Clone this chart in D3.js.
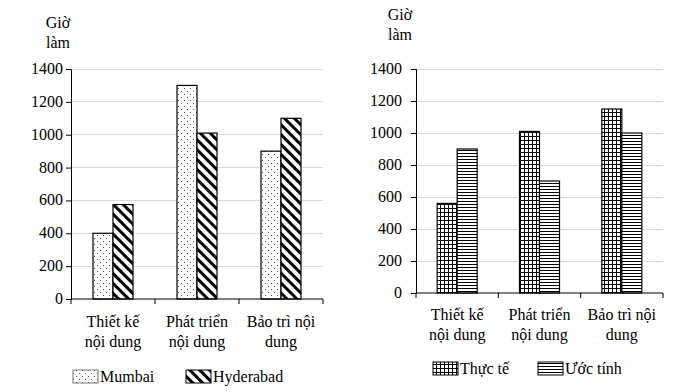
<!DOCTYPE html>
<html><head><meta charset="utf-8">
<script src="https://cdn.jsdelivr.net/npm/d3@7"></script>
</head><body style="margin:0;background:#fff">
<svg id="c" width="691" height="392"></svg>
<script>
const categories = [["Thiết kế","nội dung"],["Phát triển","nội dung"],["Bảo trì nội","dung"]];
const yTicks = [0,200,400,600,800,1000,1200,1400];
const leftSeries = ["Mumbai","Hyderabad"];
const mumbai = [400,1300,900];
const hyderabad = [575,1010,1100];
const rightSeries = ["Thực tế","Ước tính"];
const thucTe = [560,1010,1150];
const uocTinh = [900,700,1000];
const yTitle = ["Giờ","làm"];
const FONT = "Liberation Serif";

const svg = d3.select("#c");
const defs = svg.append("defs");
let p = defs.append("pattern").attr("id","dots").attr("patternUnits","userSpaceOnUse").attr("width",6).attr("height",6);
p.append("rect").attr("width",6).attr("height",6).attr("fill","#fff");
p.append("rect").attr("x",1).attr("y",1).attr("width",1).attr("height",1).attr("fill","#555");
p.append("rect").attr("x",4).attr("y",4).attr("width",1).attr("height",1).attr("fill","#555");
p = defs.append("pattern").attr("id","diag").attr("patternUnits","userSpaceOnUse").attr("width",7).attr("height",7).attr("patternTransform","rotate(45)");
p.append("rect").attr("width",7).attr("height",7).attr("fill","#fff");
p.append("rect").attr("x",0).attr("y",0).attr("width",7).attr("height",3).attr("fill","#000");
p = defs.append("pattern").attr("id","grid").attr("patternUnits","userSpaceOnUse").attr("width",4).attr("height",4);
p.append("rect").attr("width",4).attr("height",4).attr("fill","#fff");
p.append("rect").attr("x",0).attr("y",0).attr("width",4).attr("height",1).attr("fill","#000");
p.append("rect").attr("x",0).attr("y",0).attr("width",1).attr("height",4).attr("fill","#000");
p = defs.append("pattern").attr("id","horiz").attr("patternUnits","userSpaceOnUse").attr("width",4).attr("height",3);
p.append("rect").attr("width",4).attr("height",3).attr("fill","#fff");
p.append("rect").attr("x",0).attr("y",0).attr("width",4).attr("height",1).attr("fill","#000");

const txt = (x_,y_,t,anchor)=>svg.append("text").attr("x",x_).attr("y",y_).attr("text-anchor",anchor||"middle")
    .style("font-family",FONT).attr("font-size",16).attr("fill","#000").text(t);

function chart(o){
  const g = svg.append("g");
  const x = d3.scaleBand().domain(d3.range(categories.length)).range([o.x0,o.x1]);
  const y = d3.scaleLinear().domain([0,1400]).range([o.y0,o.y1]);
  g.selectAll("line.grid").data(yTicks.slice(1)).join("line")
    .attr("x1",o.x0).attr("x2",o.x1).attr("y1",d=>y(d)).attr("y2",d=>y(d))
    .attr("stroke","#d9d9d9").attr("stroke-width",1).attr("shape-rendering","crispEdges");
  const ya = g.append("g").attr("transform",`translate(${o.x0},0)`)
    .call(d3.axisLeft(y).tickValues(yTicks).tickSize(5).tickFormat(""));
  ya.select(".domain").attr("stroke","#000");
  ya.selectAll(".tick line").attr("stroke","#000");
  yTicks.forEach(v=>txt(o.x0-5-o.pad, y(v)+5, d3.format("d")(v), "end"));
  const bw = 20;
  o.series.forEach((vals,si)=>{
    g.selectAll(null).data(vals).join("rect")
      .attr("x",(d,i)=>x(i)+x.bandwidth()/2 - bw + si*bw)
      .attr("y",d=>y(d)).attr("width",bw).attr("height",d=>y(0)-y(d))
      .attr("fill",`url(#${o.pats[si]})`).attr("stroke","#000").attr("stroke-width",1.2);
  });
  g.append("line").attr("x1",o.x0).attr("x2",o.x1).attr("y1",y(0)).attr("y2",y(0)).attr("stroke","#000").attr("stroke-width",1.2);
  d3.range(categories.length+1).forEach(i=>{
    const xx = o.x0 + i*x.step();
    g.append("line").attr("x1",xx).attr("x2",xx).attr("y1",y(0)).attr("y2",y(0)+5).attr("stroke","#000");
  });
  categories.forEach((c,i)=>{
    c.forEach((t,j)=>txt(x(i)+x.bandwidth()/2, o.y0+o.lab+j*20, t));
  });
  yTitle.forEach((t,j)=>txt(o.tx, o.ty+j*20, t));
  o.names.forEach((n,i)=>{
    const lx = o.leg[i];
    g.append("rect").attr("x",lx).attr("y",o.ly-12).attr("width",25).attr("height",13)
      .attr("fill",`url(#${o.pats[i]})`).attr("stroke",o.pats[i]==="dots"?"#777":"#000").attr("stroke-width",1);
    txt(lx+27, o.ly, n, "start");
  });
}
chart({x0:71,x1:323,y0:299,y1:69,pad:3,series:[mumbai,hyderabad],pats:["dots","diag"],names:leftSeries,
  lab:28,tx:58,ty:28,leg:[73,186],ly:382});
chart({x0:416,x1:663,y0:293,y1:69,pad:9,series:[thucTe,uocTinh],pats:["grid","horiz"],names:rightSeries,
  lab:27,tx:400,ty:20,leg:[433,538],ly:374});
</script>
</body></html>
